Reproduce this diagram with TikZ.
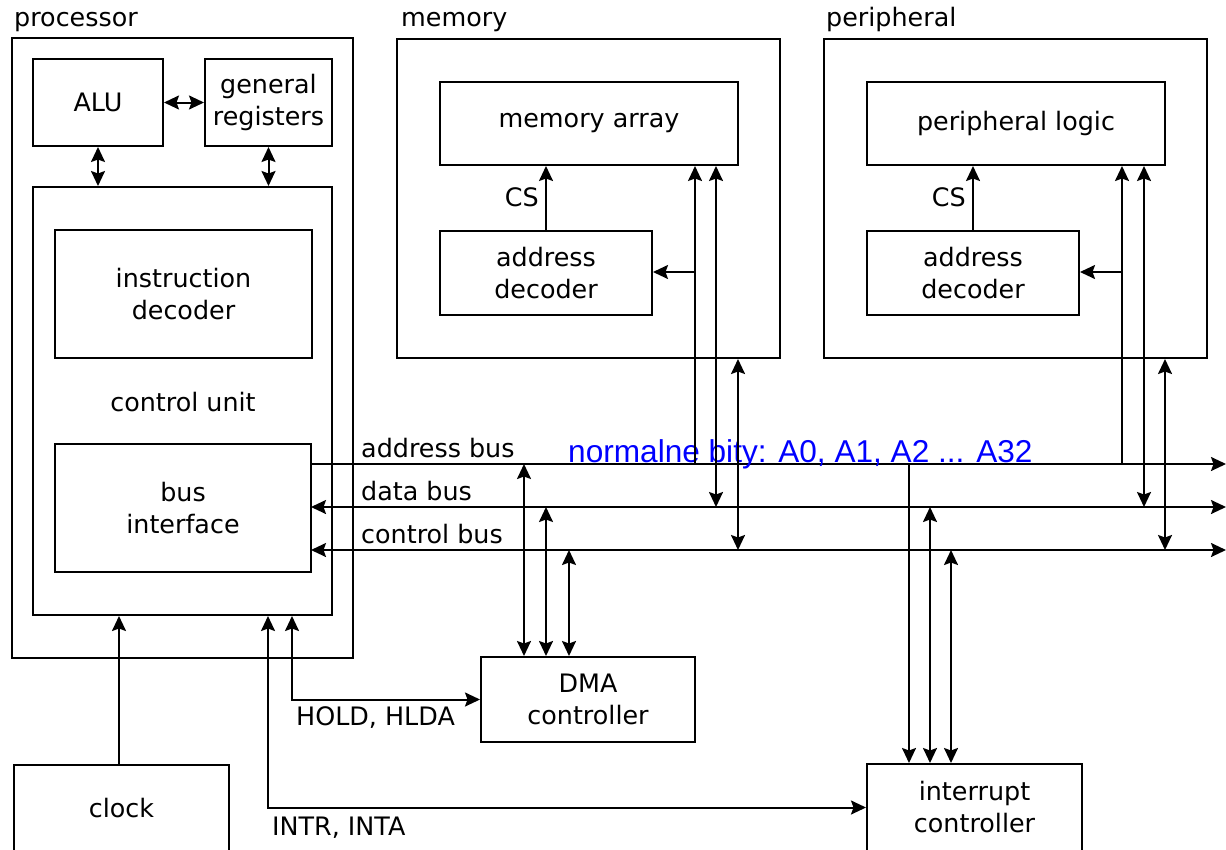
\documentclass[tikz,border=0pt]{standalone}
\usepackage{fontspec}
\setmainfont{DejaVu Sans}
\newfontfamily\bluefont{Liberation Sans}
\usetikzlibrary{arrows.meta}
\tikzset{
  box/.style={draw, line width=2pt, inner sep=0pt, align=center, font=\fontsize{25.4}{32}\selectfont},
  lbl/.style={inner sep=0pt, font=\fontsize{25.4}{32}\selectfont},
  wire/.style={line width=2pt},
  ar/.style={wire, -{Stealth[length=15pt,width=14pt,inset=2.5pt]}},
  dar/.style={wire, {Stealth[length=15pt,width=14pt,inset=2.5pt]}-{Stealth[length=15pt,width=14pt,inset=2.5pt]}}
}
\newcommand\mybox[6]{% name, x1, y1, x2, y2, text
  \node[box, minimum width={#4-#2}, minimum height={#5-#3}] (#1) at ({(#2+#4)/2},{(#3+#5)/2}) {#6};}
\begin{document}
\begin{tikzpicture}[x=1pt,y=-1pt]
\useasboundingbox (0,0) rectangle (1226,849);
\clip (0,0) rectangle (1226,849);
% processor
\mybox{proc}{12}{38}{353}{658}{}
\node[lbl, anchor=base west] (proclbl) at (14,26) {processor};
\mybox{alu}{33}{59}{163}{146}{ALU}
\mybox{reg}{205}{59}{332}{146}{general\\registers}
\mybox{cu}{33}{187}{332}{615}{}
\mybox{idec}{55}{230}{312}{358}{instruction\\decoder}
\node[lbl] (cutext) at (183,402) {control unit};
\mybox{bi}{55}{444}{311}{572}{bus\\interface}
% memory
\mybox{mem}{397}{39}{780}{358}{}
\node[lbl, anchor=base west] (memlbl) at (401,26) {memory};
\mybox{ma}{440}{82}{738}{165}{memory array}
\mybox{mad}{440}{231}{652}{315}{address\\decoder}
\node[lbl, anchor=east] (mcs) at (539,197) {CS};
% peripheral
\mybox{per}{824}{39}{1207}{358}{}
\node[lbl, anchor=base west] (perlbl) at (826,26) {peripheral};
\mybox{pl}{867}{82}{1165}{165}{peripheral logic}
\mybox{pad}{867}{231}{1079}{315}{address\\decoder}
\node[lbl, anchor=east] (pcs) at (966,197) {CS};
% others
\mybox{dma}{481}{657}{695}{742}{DMA\\controller}
\mybox{clk}{14}{765}{229}{851}{clock}
\mybox{ic}{867}{764}{1082}{851}{interrupt\\controller}
% buses
\coordinate (ab0) at (311,464); \coordinate (ab1) at (1226,464);
\coordinate (db0) at (311,507); \coordinate (db1) at (1226,507);
\coordinate (cb0) at (311,550); \coordinate (cb1) at (1226,550);
\draw[ar] (ab0) -- (ab1);
\draw[dar] (db0) -- (db1);
\draw[dar] (cb0) -- (cb1);
\node[lbl, anchor=base west] (abl) at (361,457) {address bus};
\node[lbl, anchor=base west] (dbl) at (361,500) {data bus};
\node[lbl, anchor=base west] (cbl) at (361,543) {control bus};
\node[inner sep=0pt, anchor=base west, text={rgb,255:red,0;green,0;blue,255}, font=\bluefont\fontsize{31.6}{36}\selectfont] (blue) at (568,462) {normalne bity: A0, A1, A2 ... A32};
% processor internal
\draw[dar] (alu.east) -- (reg.west);
\draw[dar] (alu.south) -- (alu.south |- cu.north);
\draw[dar] (reg.south) -- (reg.south |- cu.north);
% memory connections
\coordinate (m1) at (695,464); \coordinate (m1b) at (695,272);
\coordinate (m2) at (716,507); \coordinate (m3) at (738,550);
\draw[ar] (m1) -- (ma.south -| m1);
\draw[ar] (m1b) -- (mad.east |- m1b);
\draw[dar] (ma.south -| m2) -- (m2);
\draw[dar] (mem.south -| m3) -- (m3);
\draw[ar] (mad.north) -- (mad.north |- ma.south);
% peripheral connections
\coordinate (p1) at (1122,464); \coordinate (p1b) at (1122,272);
\coordinate (p2) at (1144,507); \coordinate (p3) at (1165,550);
\draw[ar] (p1) -- (pl.south -| p1);
\draw[ar] (p1b) -- (pad.east |- p1b);
\draw[dar] (pl.south -| p2) -- (p2);
\draw[dar] (per.south -| p3) -- (p3);
\draw[ar] (pad.north) -- (pad.north |- pl.south);
% DMA connections
\coordinate (d1) at (524,464); \coordinate (d2) at (546,507); \coordinate (d3) at (569,550);
\draw[dar] (d1) -- (dma.north -| d1);
\draw[dar] (d2) -- (dma.north -| d2);
\draw[dar] (d3) -- (dma.north -| d3);
% interrupt connections
\coordinate (i1) at (909,464); \coordinate (i2) at (930,507); \coordinate (i3) at (951,550);
\draw[ar] (i1) -- (ic.north -| i1);
\draw[dar] (i2) -- (ic.north -| i2);
\draw[dar] (i3) -- (ic.north -| i3);
% HOLD/HLDA, INTR/INTA, clock
\coordinate (h) at (292,699); \coordinate (it) at (268,807); \coordinate (ck) at (119,765);
\draw[dar] (cu.south -| h) |- (dma.west);
\node[lbl, anchor=base west] (hl) at (296,725) {HOLD, HLDA};
\draw[dar] (cu.south -| it) |- (ic.west);
\node[lbl, anchor=base west] (il) at (272,835) {INTR, INTA};
\draw[ar] (ck) -- (cu.south -| ck);
\end{tikzpicture}
\end{document}
